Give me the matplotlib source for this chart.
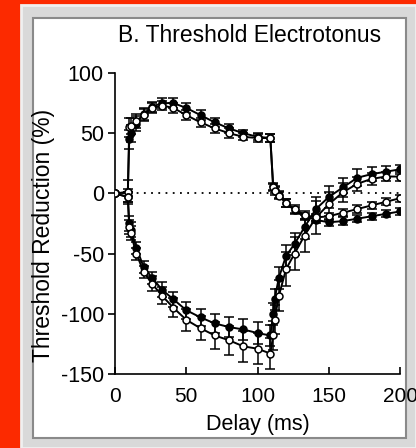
import matplotlib
matplotlib.use('Agg')
import matplotlib.pyplot as plt
from matplotlib.patches import Rectangle

plt.rcParams['font.family'] = ['Liberation Sans', 'DejaVu Sans']

# delays (ms) of the threshold electrotonus points
delay = [0, 9, 10, 11, 15, 20, 26, 33, 41, 50, 60, 70, 80, 90, 100, 109,
         111, 112, 115, 120, 126, 133, 141, 150, 160, 170, 180, 190, 200]

# depolarizing conditioning current
depol_filled = [0, 1, 45, 50, 58, 66, 72, 75, 75, 71, 65, 59, 54, 50, 47, 46,
                6, 3, -1, -8, -14, -19, -22, -24, -23, -21, -19, -17, -15]
depol_filled_err = [0, 3, 8, 7, 6, 5, 4, 4, 4, 4, 4, 4, 4, 3, 3, 3,
                    3, 3, 3, 3, 3, 3, 3, 3, 3, 3, 3, 3, 3]
depol_open = [0, 1, 55, 56, 60, 65, 71, 73, 71, 65, 59, 54, 50, 47, 46, 46,
              5, 2, -2, -8, -13, -18, -20, -19, -16, -13, -10, -7, -4]
depol_open_err = [0, 10, 8, 7, 6, 5, 4, 4, 4, 4, 4, 4, 4, 3, 3, 3,
                  3, 3, 3, 3, 3, 3, 3, 3, 3, 3, 3, 3, 3]

# hyperpolarizing conditioning current
hyper_filled = [0, -3, -25, -30, -45, -61, -70, -80, -88, -97, -103, -108, -111, -113, -116, -118,
                -100, -88, -70, -52, -42, -28, -13, -3, 5, 13, 16, 18, 20]
hyper_filled_err = [0, 4, 6, 6, 5, 5, 5, 6, 6, 7, 7, 8, 8, 9, 9, 9,
                    9, 9, 9, 9, 9, 10, 10, 9, 8, 7, 6, 5, 4]
hyper_open = [0, -3, -28, -33, -50, -65, -75, -85, -95, -105, -112, -118, -122, -127, -129, -133,
              -118, -105, -85, -63, -50, -35, -20, -9, 1, 8, 12, 14, 14]
hyper_open_err = [0, 4, 6, 6, 5, 5, 6, 7, 8, 9, 10, 11, 12, 13, 13, 13,
                  12, 12, 13, 14, 14, 14, 14, 10, 8, 6, 5, 4, 4]

fig = plt.figure(figsize=(4.16, 4.48), dpi=100)
fig.patch.set_facecolor('#fc2a00')

W, H = 416.0, 448.0
# bevelled grey frame and white panel
fig.patches.append(Rectangle((21 / W, 0), (416 - 21) / W, (448 - 5) / H,
                             transform=fig.transFigure, facecolor='#d9d9d9',
                             edgecolor='#f0f0f0', lw=2, zorder=-3))
fig.patches.append(Rectangle((33 / W, 10 / H), (406 - 33) / W, (430 - 10) / H,
                             transform=fig.transFigure, facecolor='white',
                             edgecolor='#8a8a8a', lw=1.5, zorder=-2))

ax = fig.add_axes([115 / W, 1 - 374 / H, 285 / W, 301 / H])
ax.set_facecolor('none')

ax.axhline(0, color='black', lw=1.3, ls=(0, (1, 3)), zorder=1)

series = [
    (depol_filled, depol_filled_err, 'black'),
    (depol_open, depol_open_err, 'white'),
    (hyper_filled, hyper_filled_err, 'black'),
    (hyper_open, hyper_open_err, 'white'),
]
for vals, err, face in series:
    ax.errorbar(delay, vals, yerr=err, color='black', lw=1.4,
                marker='o', markersize=5, markerfacecolor=face,
                markeredgecolor='black', markeredgewidth=1.1,
                ecolor='black', elinewidth=1.1, capsize=3.5, capthick=1.3,
                zorder=3)

ax.set_xlim(0, 200)
ax.set_ylim(-150, 100)
ax.set_xticks([0, 50, 100, 150, 200])
ax.set_yticks([-150, -100, -50, 0, 50, 100])
ax.set_yticklabels(['-150', '-100', '-50', '0', '50', '100'])

for s in ['top', 'right']:
    ax.spines[s].set_visible(False)
for s in ['left', 'bottom']:
    ax.spines[s].set_linewidth(1.2)

ax.tick_params(axis='y', direction='out', length=5, width=1.2, labelsize=15.5, pad=3)
ax.tick_params(axis='x', direction='in', length=5, width=1.2, labelsize=15, pad=9)

ax.set_xlabel('Delay (ms)', fontsize=15.5, labelpad=6)
ax.set_ylabel('Threshold Reduction (%)', fontsize=16.5)
ax.yaxis.set_label_coords(-0.21, 0.46)

fig.text(250 / W, 1 - 36 / H, 'B. Threshold Electrotonus', fontsize=16.5,
         ha='center', va='center')

fig.savefig('out.png', dpi=100, facecolor=fig.get_facecolor())
